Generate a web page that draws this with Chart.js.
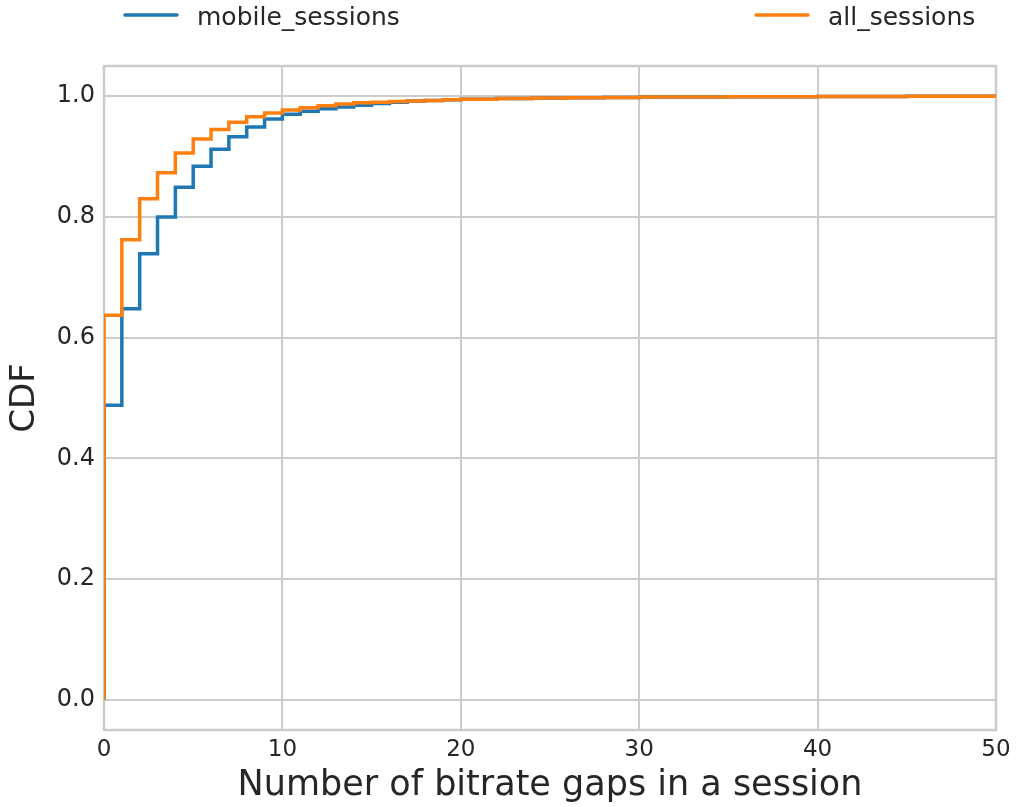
<!DOCTYPE html>
<html>
<head>
<meta charset="utf-8">
<script src="https://cdn.jsdelivr.net/npm/chart.js@4/dist/chart.umd.min.js"></script>
<style>
  html, body { margin: 0; padding: 0; background: #ffffff; }
  #wrap { width: 1018px; height: 807px; }
</style>
</head>
<body>
<div id="wrap"><canvas id="cdf" width="1018" height="807"></canvas></div>
<script>
// CDF value reached at each number of bitrate gaps
const gapCounts = [0,1,2,3,4,5,6,7,8,9,10,11,12,13,14,15,16,17,18,19,20,22,24,26,28,30,35,40,45,50];
const mobileSessions = [0.488,0.648,0.739,0.800,0.849,0.884,0.912,0.933,0.949,0.962,0.970,0.975,0.979,0.982,0.985,0.988,0.990,0.992,0.993,0.994,0.995,0.996,0.997,0.9975,0.998,0.9985,0.999,0.9995,0.9998,1.0];
const allSessions    = [0.637,0.762,0.830,0.873,0.906,0.929,0.945,0.957,0.966,0.972,0.977,0.981,0.984,0.987,0.989,0.990,0.991,0.992,0.993,0.994,0.995,0.996,0.997,0.9975,0.998,0.9985,0.999,0.9995,0.9998,1.0];
const seriesNames = ['mobile_sessions', 'all_sessions'];
const seriesColors = ['#1f77b4', '#ff7f0e'];
const xTicks = [0, 10, 20, 30, 40, 50];
const yTicks = [0.0, 0.2, 0.4, 0.6, 0.8, 1.0];

const FONT = "'DejaVu Sans', 'Liberation Sans', sans-serif";
const TEXT = '#262626';
const GRID = '#cccccc';

// step curve starting from (0, 0); each value holds until the next gap count
function stepPoints(values) {
  const pts = [{ x: 0, y: 0 }];
  gapCounts.forEach((g, i) => pts.push({ x: g, y: values[i] }));
  return pts;
}

// light frame around the plotting area
const framePlugin = {
  id: 'frame',
  beforeDatasetsDraw(chart) {
    const { ctx, chartArea: a } = chart;
    ctx.save();
    ctx.strokeStyle = GRID;
    ctx.lineWidth = 2.5;
    ctx.strokeRect(a.left, a.top, a.right - a.left, a.bottom - a.top);
    ctx.restore();
  }
};

// two-column legend spread across the top
const legendPlugin = {
  id: 'topLegend',
  afterDraw(chart) {
    const { ctx } = chart;
    const entries = [
      { lineX: 125, textX: 197 },
      { lineX: 756, textX: 828 }
    ];
    ctx.save();
    ctx.font = '25px ' + FONT;
    ctx.textBaseline = 'alphabetic';
    ctx.textAlign = 'left';
    entries.forEach((e, i) => {
      ctx.strokeStyle = seriesColors[i];
      ctx.lineWidth = 3.5;
      ctx.lineCap = 'round';
      ctx.beginPath();
      ctx.moveTo(e.lineX, 15);
      ctx.lineTo(e.lineX + 52, 15);
      ctx.stroke();
      ctx.fillStyle = TEXT;
      ctx.fillText(seriesNames[i], e.textX, 25);
    });
    ctx.restore();
  }
};

new Chart(document.getElementById('cdf'), {
  type: 'line',
  data: {
    datasets: [
      {
        label: seriesNames[0],
        data: stepPoints(mobileSessions),
        borderColor: seriesColors[0],
        borderWidth: 3.5,
        stepped: 'before',
        pointRadius: 0,
        fill: false,
        order: 2
      },
      {
        label: seriesNames[1],
        data: stepPoints(allSessions),
        borderColor: seriesColors[1],
        borderWidth: 3.5,
        stepped: 'before',
        pointRadius: 0,
        fill: false,
        order: 1
      }
    ]
  },
  options: {
    responsive: false,
    animation: false,
    devicePixelRatio: 1,
    layout: { padding: { top: 66, right: 22, left: 0, bottom: 0 } },
    plugins: {
      legend: { display: false },
      tooltip: { enabled: false }
    },
    scales: {
      x: {
        type: 'linear',
        min: 0,
        max: 50,
        afterBuildTicks(scale) { scale.ticks = xTicks.map(v => ({ value: v })); },
        afterFit(scale) { scale.height = 77; },
        grid: { color: GRID, lineWidth: 2, drawTicks: false },
        border: { display: false },
        ticks: {
          color: TEXT,
          font: { family: FONT, size: 23 },
          padding: 6,
          maxRotation: 0,
          autoSkip: false,
          callback: v => String(v)
        },
        title: {
          display: true,
          text: 'Number of bitrate gaps in a session',
          color: TEXT,
          font: { family: FONT, size: 35 },
          padding: { top: 0, bottom: 0 }
        }
      },
      y: {
        type: 'linear',
        min: -0.05,
        max: 1.05,
        afterBuildTicks(scale) { scale.ticks = yTicks.map(v => ({ value: v })); },
        afterFit(scale) { scale.width = 104; },
        grid: { color: GRID, lineWidth: 2, drawTicks: false },
        border: { display: false },
        ticks: {
          color: TEXT,
          font: { family: FONT, size: 24 },
          padding: 9,
          callback: v => Number(v).toFixed(1)
        },
        title: {
          display: true,
          text: 'CDF',
          color: TEXT,
          font: { family: FONT, size: 34 },
          padding: { top: 5, bottom: 0 }
        }
      }
    }
  },
  plugins: [framePlugin, legendPlugin]
});
</script>
</body>
</html>
